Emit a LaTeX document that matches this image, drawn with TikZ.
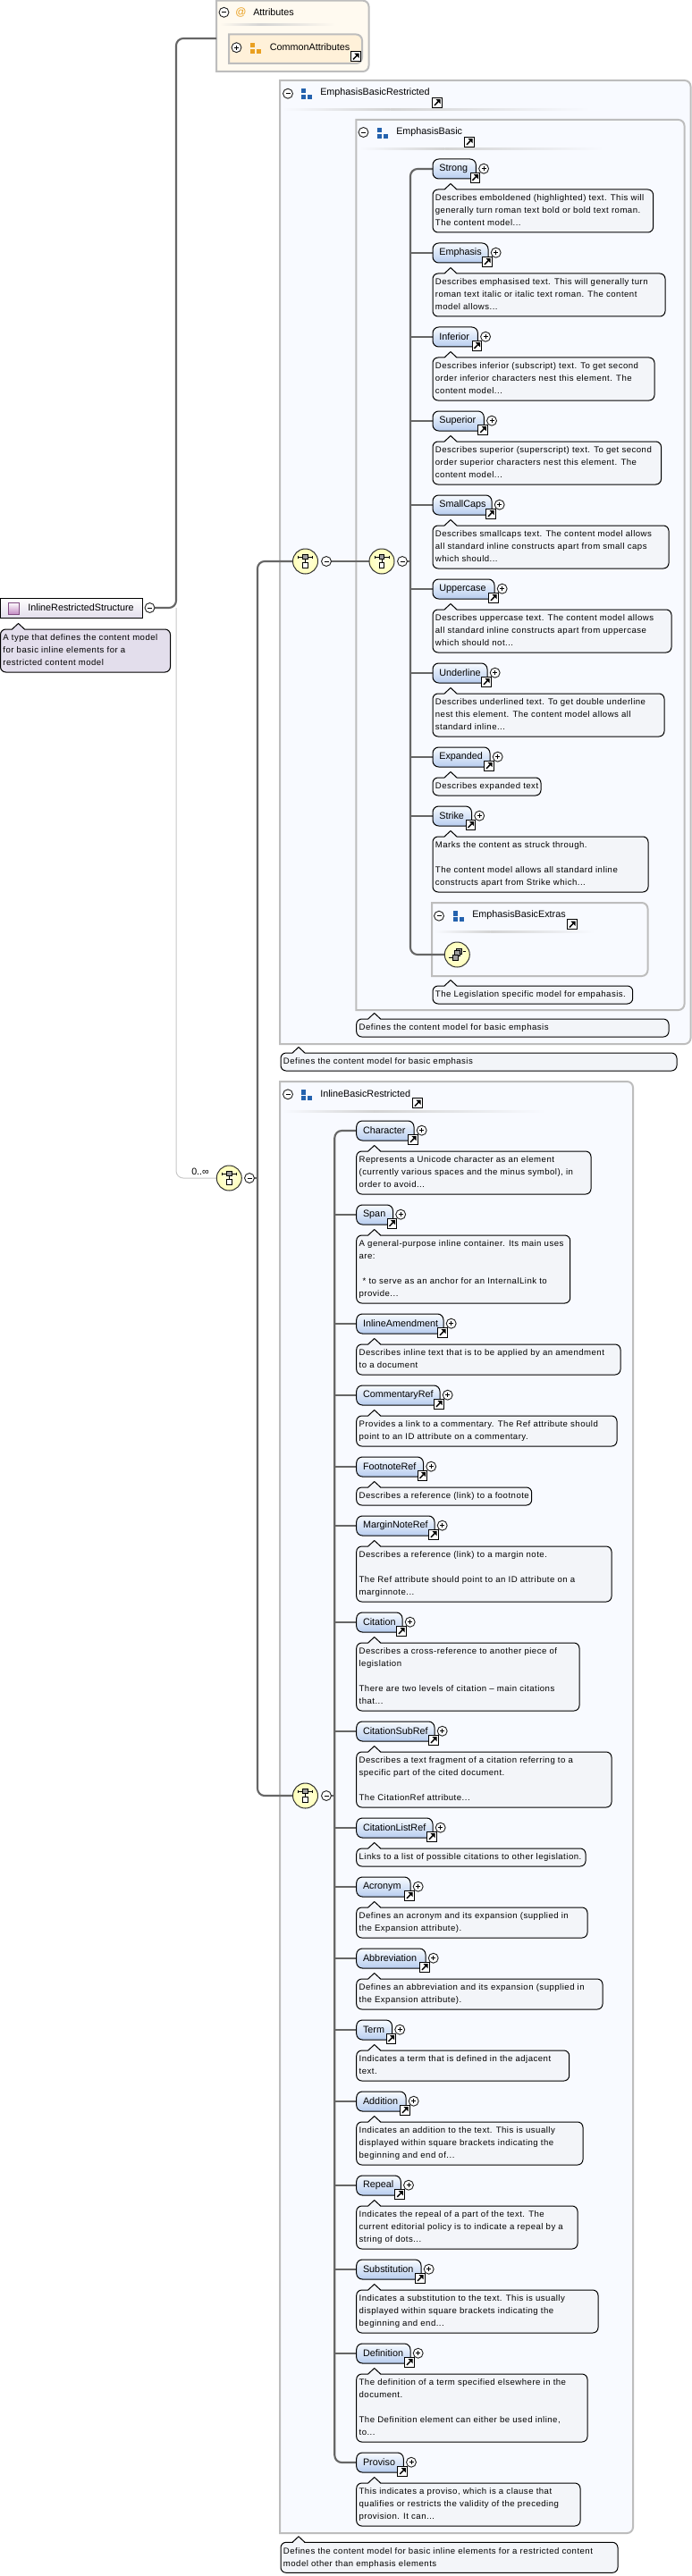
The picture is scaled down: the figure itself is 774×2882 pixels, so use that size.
\documentclass[tikz,border=0pt]{standalone}
\usepackage{fontspec}
\setmainfont{Liberation Sans}
\newfontfamily\notefam[LetterSpace=5]{Liberation Sans}
\usetikzlibrary{calc,backgrounds}
\pgfdeclarelayer{frames}\pgfdeclarelayer{conn}
\pgfsetlayers{frames,conn,main}
\definecolor{framegray}{HTML}{BDBDBD}
\definecolor{framebg}{HTML}{F8FAFF}
\definecolor{attrbg}{HTML}{FFFAF0}
\definecolor{attrbox}{HTML}{FFF1D9}
\definecolor{notebg}{HTML}{F3F5F9}
\definecolor{typenote}{HTML}{E3DEEC}
\definecolor{connc}{HTML}{666666}
\definecolor{lightc}{HTML}{C8C8C8}
\definecolor{elemtop}{HTML}{F8FBFF}
\definecolor{elembot}{HTML}{B7CDEF}
\definecolor{groupblue}{HTML}{2462AE}
\definecolor{grouporange}{HTML}{E9A021}
\tikzset{
 x=0.75pt,y=-0.75pt,
 conn/.style={draw=connc,line width=1.6pt,rounded corners=6pt},
 lightconn/.style={draw=lightc,line width=0.75pt,rounded corners=6pt},
 framebox/.style={draw=framegray,line width=1.5pt},
 elembox/.style={draw=black,line width=0.75pt,rounded corners=5pt,top color=elemtop,bottom color=elembot,
   inner sep=0pt,outer sep=0pt,minimum height=16.5pt,anchor=north west,font=\fontsize{8.1}{10}\selectfont},
 notebox/.style={draw=black,line width=0.75pt,rounded corners=4.5pt,inner sep=0pt,outer sep=0pt,anchor=north west,
   font=\notefam\fontsize{7.2}{10.5}\selectfont},
 linkbox/.style={draw=black,line width=0.75pt,fill=white,minimum size=8pt,inner sep=0pt,outer sep=0pt},
 tog/.style={draw=black!85,line width=0.7pt,fill=white,circle,minimum size=8.2pt,inner sep=0pt,outer sep=0pt},
 seqc/.style={draw=black!80,line width=0.75pt,circle,inner color=white!40!yellow!18!white,outer color=yellow!28!white,minimum size=21pt,inner sep=0pt,outer sep=0pt},
 lbl/.style={anchor=west,inner sep=0pt,font=\fontsize{8.1}{10}\selectfont},
}
% link icon
\newcommand\linkicon[3]{%
 \node[linkbox] (#1) at (#2,#3) {};
 \begin{scope}[shift={(#2,#3)}]
 \draw[line width=1.1pt] (-3,3.2) -- (1,-1);
 \fill (3.6,-3.6) -- (-1.6,-3.6) -- (3.6,1.6) -- cycle;
 \end{scope}}
\newcommand\minus[3]{%
 \node[tog] (#1) at (#2,#3) {};
 \draw[line width=0.6pt] ($(#1.center)+(-2.5,0)$) -- ($(#1.center)+(2.5,0)$);}
\newcommand\plus[3]{%
 \node[tog] (#1) at (#2,#3) {};
 \draw[line width=0.6pt] ($(#1.center)+(-2.5,0)$) -- ($(#1.center)+(2.5,0)$)
   ($(#1.center)+(0,-2.5)$) -- ($(#1.center)+(0,2.5)$);}
\newcommand\gicon[3]{% colour, left, top
 \fill[#1] (#2,#3) rectangle ++(5,5.5);
 \fill[#1] (#2,#3+7) rectangle ++(5,5);
 \fill[#1] (#2+6.5,#3+7) rectangle ++(5.5,5);}
\newcommand\sepline[4]{% x0 x1 y bg
 \shade[left color=#4,right color=black!17] (#1,#3-1) rectangle ({#1+0.35*(#2-#1)},#3+1);
 \shade[left color=black!17,right color=#4] ({#1+0.35*(#2-#1)},#3-1) rectangle (#2,#3+1);}
% frame: x0 y0 x1 y1 fill
\newcommand\frameshape[5]{%
 \begin{pgfonlayer}{frames}
 \draw[framebox,fill=#5] (#1,#2) [rounded corners=5pt] -- (#3,#2) -- (#3,#4) [sharp corners] -- (#1,#4) -- cycle;
 \end{pgfonlayer}}
% note: id x top right nlines fill text
\newcommand\note[7]{%
 \pgfmathsetmacro\wN{(#4-#2)*0.75}%
 \pgfmathsetmacro\hN{(6+14*#5)*0.75}%
 \node[notebox,fill=#6,minimum width=\wN pt,minimum height=\hN pt] (#1) at (#2,#3)
   {\makebox[\wN pt][l]{\hspace{2.2pt}\raisebox{-0.6pt}{\begin{tabular}{@{}l@{}}#7\end{tabular}}}};
 \fill[#6] (#2+13,#3+1) -- (#2+20,#3-6.5) -- (#2+27,#3+1) -- cycle;
 \draw[line width=0.75pt,line join=round] (#2+13,#3) -- (#2+20,#3-6.5) -- (#2+27,#3);}
% elem: id label x top right noteright nlines text
\newcommand\elem[8]{%
 \pgfmathsetmacro\wE{(#5-#3)*0.75}%
 \node[elembox,minimum width=\wE pt] (#1) at (#3,#4)
   {\makebox[\wE pt][l]{\hspace{5.5pt}#2}};
 \linkicon{#1-link}{#5-1}{#4+20.7}
 \plus{#1-tog}{#5+8.7}{#4+10.7}
 \note{#1-note}{#3}{#4+34}{#6}{#7}{notebg}{#8}}
\newcommand\seqicon[1]{%
 \begin{scope}[shift={(#1.center)}]
 \draw[line width=0.6pt] (-8,-5) -- (8,-5) (0,-5) -- (0,4)  (-8,-6.5) -- (-8,-3.5) (8,-6.5) -- (8,-3.5);
 \draw[line width=0.6pt,fill=black!38] (-2.7,-7.7) rectangle (2.7,-2.3);
 \draw[line width=0.6pt,fill=white] (-2.7,1.7) rectangle (2.7,7);
 \end{scope}}
\begin{document}
\begin{tikzpicture}
\useasboundingbox (0,0) rectangle (774,2882);
\begin{pgfonlayer}{frames}
\fill[white] (0,0) rectangle (774,2882);
\end{pgfonlayer}

% ---------- type
\node[draw=black,line width=0.75pt,top color=white,bottom color=typenote,inner sep=0pt,outer sep=0pt,anchor=north west,
  minimum width=119pt,minimum height=16.5pt,font=\fontsize{8.1}{10}\selectfont] (type) at (0.5,669)
  {\makebox[119pt][l]{\hspace{23.2pt}InlineRestrictedStructure}};
\shade[top color=white,bottom color=violet!45!white,draw=violet!60!black!70,line width=0.6pt] (9.5,674) rectangle (21.5,687);
\minus{typetog}{167.5}{680}
\note{typenote}{0.5}{704}{190.5}{3}{typenote}{A type that defines the content model\\ for basic inline elements for a\\ restricted content model}

% ---------- attributes
\frameshape{242}{0.7}{412.5}{80}{attrbg}
\minus{attrtog}{250.5}{13.8}
\node[anchor=center,inner sep=0pt,text=grouporange,font=\fontsize{9}{10}\selectfont] (at) at (269.5,14) {@};
\node[lbl] (attrlabel) at (283,14) {Attributes};
\sepline{246}{375}{28}{attrbg}
\draw[framegray,line width=1.5pt,fill=attrbox] (256,38.5) [rounded corners=5pt] -- (405,38.5) -- (405,71) [sharp corners] -- (256,71) -- cycle;
\plus{commontog}{264.5}{53.2}
\gicon{grouporange}{280}{48}
\node[lbl] (commonlabel) at (301.5,53) {CommonAttributes};
\linkicon{commonlink}{398}{63.3}

% ---------- frames
\frameshape{313}{90}{772.5}{1168}{framebg}
\minus{ebrtog}{322}{104.7}
\gicon{groupblue}{337}{99}
\node[lbl] (ebrlabel) at (358,104) {EmphasisBasicRestricted};
\linkicon{ebrlink}{489}{114.7}
\sepline{316}{660}{123}{framebg}

\frameshape{398.4}{134}{765.5}{1130}{framebg}
\minus{ebtog}{406.5}{148}
\gicon{groupblue}{422}{143}
\node[lbl] (eblabel) at (443,148) {EmphasisBasic};
\linkicon{eblink}{525}{158.7}
\sepline{402}{675}{166.7}{framebg}

\elem{Strong}{Strong}{484}{178}{532.4}{730.6}{3}{Describes emboldened (highlighted) text. This will\\ generally turn roman text bold or bold text roman.\\ The content model...}
\elem{Emphasis}{Emphasis}{484}{272}{546}{744}{3}{Describes emphasised text. This will generally turn\\ roman text italic or italic text roman. The content\\ model allows...}
\elem{Inferior}{Inferior}{484}{366}{534.4}{732}{3}{Describes inferior (subscript) text. To get second\\ order inferior characters nest this element. The\\ content model...}
\elem{Superior}{Superior}{484}{460}{541.3}{739.5}{3}{Describes superior (superscript) text. To get second\\ order superior characters nest this element. The\\ content model...}
\elem{SmallCaps}{SmallCaps}{484}{554}{550}{748}{3}{Describes smallcaps text. The content model allows\\ all standard inline constructs apart from small caps\\ which should...}
\elem{Uppercase}{Uppercase}{484}{648}{553}{751}{3}{Describes uppercase text. The content model allows\\ all standard inline constructs apart from uppercase\\ which should not...}
\elem{Underline}{Underline}{484}{742}{545}{743}{3}{Describes underlined text. To get double underline\\ nest this element. The content model allows all\\ standard inline...}
\elem{Expanded}{Expanded}{484}{836}{548}{605}{1}{Describes expanded text}
\elem{Strike}{Strike}{484}{902}{527.5}{725}{4}{Marks the content as struck through.\\ \\ The content model allows all standard inline\\ constructs apart from Strike which...}

\frameshape{483}{1010}{724.5}{1092}{framebg}
\minus{extog}{491}{1024.7}
\gicon{groupblue}{507}{1019}
\node[lbl] (exlabel) at (528,1024) {EmphasisBasicExtras};
\linkicon{exlink}{640}{1034.3}
\sepline{486}{665}{1042.7}{framebg}
\node[seqc] (allc) at (511.3,1068) {};
\begin{scope}[shift={(allc.center)}]
 \draw[line width=0.6pt] (-9,3.5) -- (-5,3.5) (7,-3.5) -- (10,-3.5);
 \draw[line width=0.6pt,fill=black!38] (-1,-6.5) rectangle (5.5,-0.5);
 \draw[line width=0.6pt,fill=black!38] (-2.5,-4.5) rectangle (3,1.5);
 \draw[line width=0.6pt,fill=black!38] (-5,0) rectangle (1,6);
\end{scope}
\note{exnote}{484}{1103}{707.7}{1}{notebg}{The Legislation specific model for empahasis.}
\note{ebnote}{398.7}{1140}{748}{1}{notebg}{Defines the content model for basic emphasis}
\note{ebrnote}{314}{1178}{757}{1}{notebg}{Defines the content model for basic emphasis}

\frameshape{313}{1210}{708}{2834}{framebg}
\minus{ibrtog}{322}{1224.3}
\gicon{groupblue}{337}{1219}
\node[lbl] (ibrlabel) at (358,1224) {InlineBasicRestricted};
\linkicon{ibrlink}{467}{1234.3}
\sepline{316}{610}{1243}{framebg}

\elem{Character}{Character}{398.7}{1254}{463}{661}{3}{Represents a Unicode character as an element\\ (currently various spaces and the minus symbol), in\\ order to avoid...}
\elem{Span}{Span}{398.7}{1348}{439.5}{637.7}{5}{A general-purpose inline container. Its main uses\\ are:\\ \\ \hspace{3pt}* to serve as an anchor for an InternalLink to\\ provide...}
\elem{InlineAmendment}{InlineAmendment}{398.7}{1470}{496}{694}{2}{Describes inline text that is to be applied by an amendment\\ to a document}
\elem{CommentaryRef}{CommentaryRef}{398.7}{1550}{492}{690}{2}{Provides a link to a commentary. The Ref attribute should\\ point to an ID attribute on a commentary.}
\elem{FootnoteRef}{FootnoteRef}{398.7}{1630}{473.5}{594.7}{1}{Describes a reference (link) to a footnote}
\elem{MarginNoteRef}{MarginNoteRef}{398.7}{1696}{486}{684}{4}{Describes a reference (link) to a margin note.\\ \\ The Ref attribute should point to an ID attribute on a\\ marginnote...}
\elem{Citation}{Citation}{398.7}{1804}{450}{648}{5}{Describes a cross-reference to another piece of\\ legislation\\ \\ There are two levels of citation – main citations\\ that...}
\elem{CitationSubRef}{CitationSubRef}{398.7}{1926}{486}{684}{4}{Describes a text fragment of a citation referring to a\\ specific part of the cited document.\\ \\ The CitationRef attribute...}
\elem{CitationListRef}{CitationListRef}{398.7}{2034}{484}{655}{1}{Links to a list of possible citations to other legislation.}
\elem{Acronym}{Acronym}{398.7}{2100}{459}{657}{2}{Defines an acronym and its expansion (supplied in\\ the Expansion attribute).}
\elem{Abbreviation}{Abbreviation}{398.7}{2180}{476}{674}{2}{Defines an abbreviation and its expansion (supplied in\\ the Expansion attribute).}
\elem{Term}{Term}{398.7}{2260}{438.5}{636.7}{2}{Indicates a term that is defined in the adjacent\\ text.}
\elem{Addition}{Addition}{398.7}{2340}{454}{652}{3}{Indicates an addition to the text. This is usually\\ displayed within square brackets indicating the\\ beginning and end of...}
\elem{Repeal}{Repeal}{398.7}{2434}{448.3}{646}{3}{Indicates the repeal of a part of the text. The\\ current editorial policy is to indicate a repeal by a\\ string of dots...}
\elem{Substitution}{Substitution}{398.7}{2528}{471}{669}{3}{Indicates a substitution to the text. This is usually\\ displayed within square brackets indicating the\\ beginning and end...}
\elem{Definition}{Definition}{398.7}{2622}{459}{657}{5}{The definition of a term specified elsewhere in the\\ document.\\ \\ The Definition element can either be used inline,\\ to...}
\elem{Proviso}{Proviso}{398.7}{2744}{451.3}{649}{3}{This indicates a proviso, which is a clause that\\ qualifies or restricts the validity of the preceding\\ provision. It can...}
\note{ibrnote}{314}{2844.3}{691}{2}{notebg}{Defines the content model for basic inline elements for a restricted content\\ model other than emphasis elements}

% ---------- sequences
\node[seqc] (seqroot) at (256.3,1318) {}; \seqicon{seqroot}
\minus{seqroottog}{279}{1318}
\node[inner sep=0pt,font=\fontsize{8}{10}\selectfont] (card) at (224,1311) {0..∞};
\node[seqc] (seqA) at (341.5,628) {}; \seqicon{seqA}
\minus{seqAtog}{365}{628}
\node[seqc] (seqB) at (427,628) {}; \seqicon{seqB}
\minus{seqBtog}{450}{628}
\node[seqc] (seqC) at (341.5,2009) {}; \seqicon{seqC}
\minus{seqCtog}{365}{2009}

\coordinate (t0) at (197,680);
\coordinate (t1) at (288,1318);
\coordinate (t2) at (459,628);
\coordinate (t3) at (374.3,2009);
\coordinate (attrin) at (242,43);
\begin{pgfonlayer}{conn}
 \draw[conn] (typetog.east) -- (t0) -- (t0 |- attrin) -- (attrin);
 \draw[lightconn] (t0) -- (t0 |- seqroot.west) -- (seqroot.west);
 \draw[conn,line width=1.2pt] (seqroottog.east) -- (t1);
 \draw[conn] (seqA.west) -- (t1 |- seqA.west) -- (t1 |- seqC.west) -- (seqC.west);
 \draw[conn] (seqAtog.east) -- (seqB.west);
 \draw[conn] (seqBtog.east) -- (t2);
 \draw[conn] (seqCtog.east) -- (t3);
 \draw[conn] (Strong.west) -- (t2 |- Strong.west) -- (t2 |- allc.west) -- (allc.west);
 \foreach \n in {Emphasis,Inferior,Superior,SmallCaps,Uppercase,Underline,Expanded,Strike}
   \draw[conn,line width=2pt] (t2 |- \n.west) -- (\n.west);
 \draw[conn] (Character.west) -- (t3 |- Character.west) -- (t3 |- Proviso.west) -- (Proviso.west);
 \foreach \n in {Span,InlineAmendment,CommentaryRef,FootnoteRef,MarginNoteRef,Citation,CitationSubRef,CitationListRef,Acronym,Abbreviation,Term,Addition,Repeal,Substitution,Definition}
   \draw[conn,line width=2pt] (t3 |- \n.west) -- (\n.west);
\end{pgfonlayer}
\end{tikzpicture}
\end{document}
